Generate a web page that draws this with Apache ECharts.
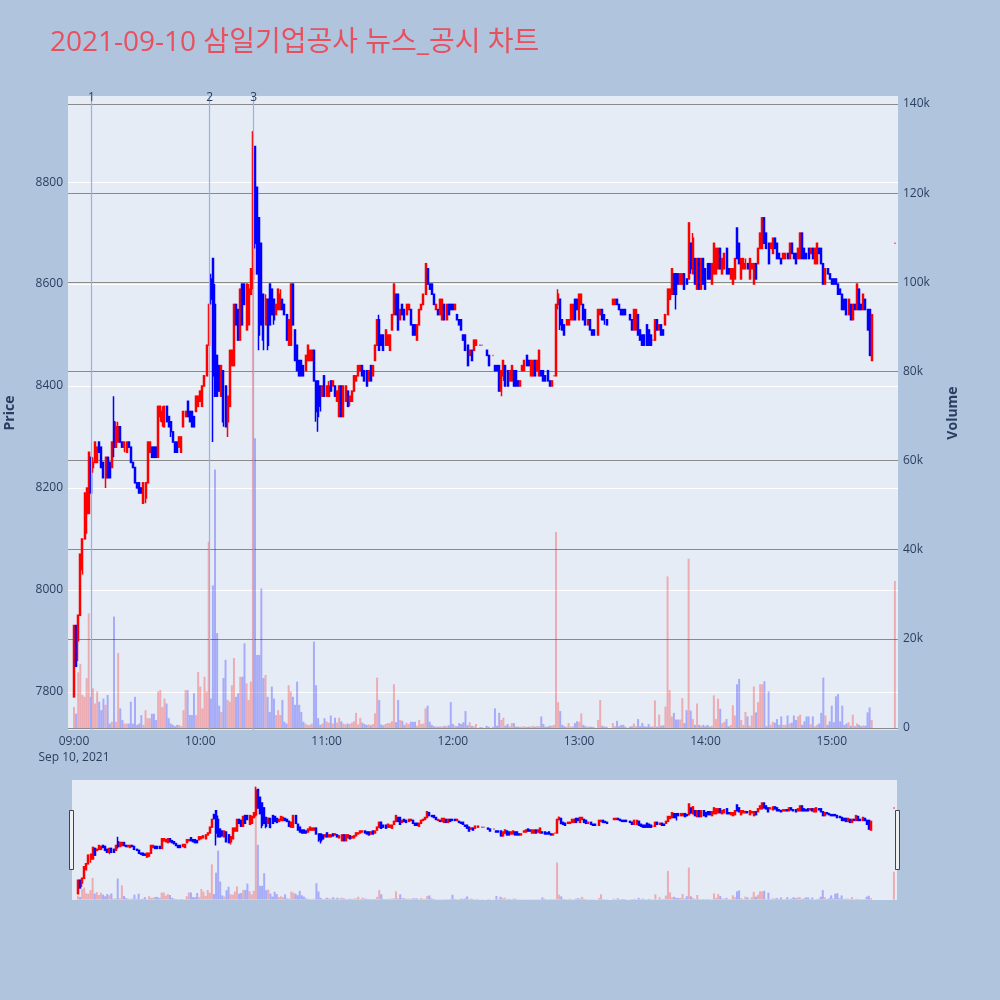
<!DOCTYPE html>
<html><head><meta charset="utf-8">
<script src="https://cdn.jsdelivr.net/npm/echarts@6/dist/echarts.min.js"></script>
<style>html,body{margin:0;padding:0;background:#b0c4de}#c{width:1000px;height:1000px}</style>
</head><body><div id="c"></div>
<script>
// rows: [time, open, high, low, close, volume]
const h09 = [
["09:00",7790,7930,7790,7930,4700],["09:01",7930,7930,7850,7850,3200],["09:02",7900,7950,7860,7950,12500],
["09:03",7950,8070,7950,8070,14400],["09:04",8040,8100,8030,8100,7400],["09:05",8100,8190,8100,8190,7000],
["09:06",8150,8200,8110,8200,11200],["09:07",8150,8270,8150,8270,25700],["09:08",8260,8260,8190,8190,7000],
["09:09",8240,8260,8230,8250,8900],["09:10",8250,8290,8250,8290,5500],["09:11",8250,8280,8250,8280,8200],
["09:12",8290,8290,8270,8270,5900],["09:13",8280,8280,8240,8240,4000],["09:14",8250,8250,8220,8220,6600],
["09:15",8220,8260,8200,8260,5200],["09:16",8260,8260,8220,8220,7400],["09:17",8250,8250,8220,8220,1000],
["09:18",8240,8290,8240,8290,1400],["09:19",8330,8380,8260,8280,25000],["09:20",8280,8330,8280,8320,1400],
["09:21",8290,8330,8290,8320,16800],["09:22",8320,8320,8290,8290,4400],["09:23",8290,8290,8280,8280,1800],
["09:24",8280,8290,8270,8290,1000],["09:25",8270,8290,8270,8290,1000],["09:26",8290,8290,8280,8280,1000],
["09:27",8280,8280,8250,8250,5900],["09:28",8250,8250,8240,8240,1000],["09:29",8240,8240,8210,8210,7000],
["09:30",8210,8210,8200,8200,700],["09:31",8210,8210,8190,8190,1000],["09:32",8200,8200,8190,8190,2900],
["09:33",8170,8210,8170,8210,700],["09:34",8180,8210,8170,8210,4000],["09:35",8210,8290,8210,8290,2200],
["09:36",8270,8290,8270,8290,2200],["09:37",8280,8280,8260,8260,3200],["09:38",8280,8280,8260,8260,3200],
["09:39",8280,8280,8260,8260,1800],["09:40",8260,8360,8260,8360,8200],["09:41",8340,8360,8330,8360,8500],
["09:42",8330,8360,8320,8350,4700],["09:43",8320,8360,8320,8360,6600],["09:44",8360,8360,8330,8330,5500],
["09:45",8340,8340,8320,8320,2200],["09:46",8330,8330,8300,8310,1000],["09:47",8310,8310,8290,8290,700],
["09:48",8290,8290,8270,8270,400],["09:49",8290,8290,8270,8270,700],["09:50",8280,8300,8280,8300,700],
["09:51",8270,8300,8270,8300,400],["09:52",8320,8350,8320,8350,4000],["09:53",8340,8350,8340,8350,8500],
["09:54",8370,8370,8340,8340,8500],["09:55",8350,8350,8330,8330,2900],["09:56",8350,8350,8320,8320,2900],
["09:57",8340,8340,8320,8320,7800],["09:58",8350,8380,8350,8380,2900],["09:59",8360,8380,8360,8380,12600]
];
const h10 = [
["10:00",8370,8390,8370,8390,9300],["10:01",8360,8400,8360,8400,4400],["10:02",8400,8420,8400,8420,11500],
["10:03",8420,8480,8420,8480,8200],["10:04",8480,8560,8480,8560,41800],["10:05",8610,8620,8560,8570,6600],
["10:06",8650,8650,8290,8420,32000],["10:07",8560,8600,8380,8380,58000],["10:08",8460,8460,8380,8380,21300],
["10:09",8440,8440,8390,8390,5000],["10:10",8380,8440,8380,8440,3600],["10:11",8430,8430,8320,8330,11200],
["10:12",8400,8400,8320,8320,15300],["10:13",8330,8380,8300,8380,6300],["10:14",8360,8470,8360,8470,5900],
["10:15",8440,8470,8440,8470,9600],["10:16",8440,8560,8440,8560,15700],["10:17",8560,8560,8520,8520,7000],
["10:18",8550,8550,8490,8490,7800],["10:19",8490,8590,8490,8590,11500],["10:20",8600,8600,8520,8520,11500],
["10:21",8600,8600,8560,8560,19000],["10:22",8510,8600,8510,8600,10000],["10:23",8520,8600,8520,8590,6300],
["10:24",8580,8630,8580,8630,10400],["10:25",8610,8900,8590,8860,134000],["10:26",8870,8870,8670,8680,65000],
["10:27",8790,8790,8620,8620,16400],["10:28",8730,8730,8470,8500,16400],["10:29",8680,8680,8520,8520,31300],
["10:30",8580,8580,8470,8490,11200],["10:31",8520,8580,8520,8570,11900],["10:32",8570,8570,8470,8480,7000],
["10:33",8600,8600,8520,8520,3600],["10:34",8590,8590,8540,8540,9300],["10:35",8570,8570,8520,8530,6600],
["10:36",8540,8560,8540,8560,2900],["10:37",8550,8590,8550,8590,4000],["10:38",8550,8590,8550,8580,2900],
["10:39",8570,8570,8550,8550,6300],["10:40",8560,8560,8540,8540,1400],["10:41",8540,8540,8490,8490,1000],
["10:42",8480,8530,8480,8530,9600],["10:43",8480,8600,8480,8600,8200],["10:44",8600,8600,8520,8520,7000],
["10:45",8510,8510,8450,8450,5200],["10:46",8480,8480,8430,8430,10400],["10:47",8450,8450,8420,8420,5200],
["10:48",8450,8450,8420,8420,3600],["10:49",8440,8440,8420,8420,1400],["10:50",8430,8460,8430,8460,1000],
["10:51",8450,8480,8450,8480,700],["10:52",8450,8470,8450,8470,700],["10:53",8450,8470,8450,8470,1000],
["10:54",8470,8470,8410,8410,19400],["10:55",8410,8410,8330,8350,9600],["10:56",8410,8410,8310,8340,2200],
["10:57",8400,8400,8350,8360,700],["10:58",8380,8400,8380,8400,1000],["10:59",8420,8420,8380,8380,2200]
];
const h11 = [
["11:00",8380,8400,8380,8400,1500],["11:01",8380,8410,8380,8400,1200],["11:02",8410,8410,8390,8390,2800],
["11:03",8400,8410,8400,8410,1000],["11:04",8400,8400,8380,8380,2300],["11:05",8370,8390,8370,8390,1200],
["11:06",8340,8400,8340,8400,2300],["11:07",8400,8400,8340,8340,1500],["11:08",8340,8400,8340,8400,1000],
["11:09",8370,8400,8370,8400,800],["11:10",8390,8390,8360,8360,1000],["11:11",8370,8380,8360,8380,900],
["11:12",8370,8390,8370,8390,1200],["11:13",8390,8420,8390,8420,1500],["11:14",8410,8420,8410,8420,3400],
["11:15",8420,8440,8420,8440,800],["11:16",8430,8440,8430,8440,2300],["11:17",8440,8440,8420,8420,1200],
["11:18",8430,8430,8410,8410,900],["11:19",8430,8430,8400,8400,700],["11:20",8410,8430,8410,8430,800],
["11:21",8440,8440,8410,8410,600],["11:22",8420,8440,8420,8440,900],["11:23",8450,8480,8450,8480,3300],
["11:24",8480,8530,8480,8530,11300],["11:25",8530,8540,8470,8470,6300],["11:26",8500,8500,8480,8480,800],
["11:27",8500,8500,8470,8470,600],["11:28",8480,8510,8480,8510,900],["11:29",8480,8500,8480,8500,1100],
["11:30",8470,8500,8470,8500,1100],["11:31",8510,8540,8510,8540,1500],["11:32",8540,8600,8540,8600,9800],
["11:33",8580,8580,8540,8540,1300],["11:34",8580,8580,8510,8510,6300],["11:35",8530,8550,8530,8550,1800],
["11:36",8560,8560,8540,8540,1600],["11:37",8550,8550,8530,8530,700],["11:38",8540,8560,8540,8560,1200],
["11:39",8550,8560,8550,8560,900],["11:40",8550,8550,8520,8520,1400],["11:41",8520,8520,8500,8500,1400],
["11:42",8520,8520,8500,8500,1400],["11:43",8490,8520,8490,8520,500],["11:44",8520,8550,8520,8550,1800],
["11:45",8550,8560,8550,8560,900],["11:46",8560,8580,8560,8580,1000],["11:47",8580,8640,8580,8640,4400],
["11:48",8630,8630,8600,8600,5000],["11:49",8600,8600,8590,8590,1400],["11:50",8600,8600,8580,8580,700],
["11:51",8580,8580,8560,8560,400],["11:52",8550,8560,8550,8560,300],["11:53",8550,8550,8540,8540,300],
["11:54",8540,8570,8540,8570,400],["11:55",8530,8570,8530,8570,300],["11:56",8560,8560,8530,8530,500],
["11:57",8530,8560,8530,8560,400],["11:58",8560,8560,8540,8540,600],["11:59",8560,8560,8550,8550,5800]
];
const h12 = [
["12:00",8560,8560,8550,8550,900],["12:01",8550,8560,8550,8560,500],["12:02",8540,8540,8530,8530,400],
["12:03",8530,8530,8520,8520,1100],["12:04",8530,8530,8510,8510,900],["12:05",8500,8500,8490,8490,1300],
["12:06",8500,8500,8470,8470,3800],["12:07",8480,8480,8440,8440,600],["12:08",8460,8470,8460,8470,1300],
["12:09",8470,8470,8450,8450,500],["12:10",8470,8490,8470,8490,400],["12:11",8480,8490,8480,8490,900],
["12:13",8480,8480,8480,8480,200],["12:14",8480,8480,8480,8480,200],["12:16",8470,8470,8460,8460,500],
["12:17",8460,8460,8440,8440,300],["12:19",8460,8460,8460,8460,300],["12:20",8440,8440,8430,8430,4400],
["12:21",8440,8440,8430,8430,500],["12:22",8440,8440,8390,8390,3400],["12:23",8390,8430,8380,8430,1800],
["12:24",8420,8450,8410,8450,2300],["12:25",8440,8440,8400,8400,500],["12:26",8430,8430,8400,8400,900],
["12:27",8410,8430,8410,8430,400],["12:28",8410,8440,8410,8440,1100],["12:29",8430,8430,8400,8400,1100],
["12:30",8430,8430,8400,8400,300],["12:31",8410,8410,8400,8400,300],["12:32",8400,8410,8400,8410,300],
["12:33",8430,8440,8430,8440,300],["12:34",8430,8450,8430,8450,400],["12:35",8460,8460,8440,8440,200],
["12:36",8450,8450,8440,8440,300],["12:37",8420,8450,8420,8450,300],["12:38",8420,8450,8420,8450,500],
["12:39",8450,8450,8420,8420,300],["12:40",8430,8450,8430,8450,400],["12:41",8420,8470,8420,8470,400],
["12:42",8430,8430,8420,8420,2600],["12:43",8430,8430,8410,8410,900],["12:44",8420,8420,8410,8410,300],
["12:45",8430,8430,8410,8410,300],["12:46",8410,8410,8400,8400,500],["12:47",8400,8410,8400,8410,500],
["12:48",8420,8420,8420,8420,700],["12:49",8420,8560,8420,8560,44000],["12:50",8560,8590,8550,8580,5800],
["12:51",8570,8570,8510,8520,3800],["12:52",8530,8530,8510,8510,700],["12:53",8520,8520,8500,8500,400],
["12:54",8520,8530,8520,8530,300],["12:55",8520,8530,8520,8530,1100],["12:56",8530,8560,8530,8560,300],
["12:57",8530,8560,8530,8560,400],["12:58",8570,8570,8530,8530,1100],["12:59",8570,8570,8550,8550,1500]
];
const h13 = [
["13:00",8530,8580,8530,8580,1400],["13:01",8560,8580,8560,8580,3300],["13:02",8560,8560,8530,8530,700],
["13:03",8550,8550,8520,8520,400],["13:04",8520,8530,8520,8530,300],["13:05",8530,8530,8510,8510,300],
["13:06",8510,8510,8500,8500,300],["13:07",8510,8510,8500,8500,200],["13:09",8500,8550,8500,8550,1800],
["13:10",8540,8550,8540,8550,6300],["13:11",8550,8550,8530,8530,500],["13:12",8540,8540,8520,8530,300],
["13:13",8530,8530,8520,8520,300],["13:16",8560,8570,8560,8570,1100],["13:17",8560,8570,8560,8570,400],
["13:18",8570,8570,8560,8560,1600],["13:19",8560,8560,8550,8550,400],["13:20",8550,8550,8540,8540,700],
["13:21",8550,8550,8540,8540,700],["13:22",8550,8550,8540,8540,300],["13:24",8540,8540,8530,8530,300],
["13:25",8530,8530,8510,8510,400],["13:26",8510,8550,8510,8550,1000],["13:27",8510,8550,8510,8550,400],
["13:28",8540,8540,8500,8500,2000],["13:29",8510,8510,8490,8490,400],["13:30",8500,8500,8480,8480,1100],
["13:31",8500,8500,8480,8480,400],["13:32",8520,8520,8480,8480,300],["13:33",8510,8510,8480,8480,900],
["13:34",8500,8500,8480,8480,300],["13:35",8490,8490,8490,8490,400],["13:36",8490,8530,8490,8530,6200],
["13:37",8530,8530,8510,8510,300],["13:38",8510,8520,8510,8520,3000],["13:39",8520,8520,8500,8500,500],
["13:40",8510,8510,8500,8500,600],["13:41",8520,8540,8520,8540,4800],["13:42",8540,8590,8540,8590,34000],
["13:43",8570,8590,8570,8590,8500],["13:44",8580,8630,8580,8630,2600],["13:45",8620,8620,8580,8580,3400],
["13:46",8620,8620,8550,8580,1900],["13:47",8620,8620,8600,8600,1900],["13:48",8600,8620,8600,8620,1900],
["13:49",8600,8620,8600,8620,6700],["13:50",8620,8620,8590,8590,1100],["13:51",8610,8610,8600,8600,4000],
["13:52",8610,8720,8610,8720,38000],["13:53",8680,8680,8620,8630,3900],["13:54",8620,8700,8620,8690,2000],
["13:55",8650,8650,8600,8600,700],["13:56",8590,8650,8590,8650,5500],["13:57",8650,8650,8590,8590,700],
["13:58",8590,8650,8590,8650,500],["13:59",8650,8650,8600,8600,700]
];
const h14 = [
["14:00",8630,8630,8590,8590,400],["14:01",8640,8640,8610,8610,700],["14:02",8640,8640,8610,8610,300],
["14:03",8600,8640,8600,8640,500],["14:04",8620,8680,8620,8680,7300],["14:05",8620,8670,8620,8670,2000],
["14:06",8630,8670,8630,8670,6600],["14:07",8670,8670,8630,8630,4300],["14:08",8620,8650,8620,8650,1100],
["14:09",8630,8660,8630,8660,1400],["14:10",8670,8670,8620,8620,2000],["14:11",8630,8630,8620,8620,400],
["14:12",8610,8630,8610,8630,700],["14:13",8600,8630,8600,8630,5100],["14:14",8610,8650,8610,8650,2800],
["14:15",8710,8710,8650,8650,9800],["14:16",8680,8680,8640,8640,11000],["14:17",8610,8650,8610,8650,1800],
["14:18",8630,8650,8630,8650,700],["14:19",8630,8650,8630,8640,3600],["14:20",8640,8640,8630,8630,2600],
["14:21",8610,8650,8610,8650,500],["14:22",8630,8640,8630,8640,2800],["14:23",8600,8640,8600,8640,9300],
["14:24",8640,8640,8610,8610,3500],["14:25",8640,8670,8640,8670,5800],["14:26",8670,8700,8670,8700,9800],
["14:27",8670,8730,8670,8730,9800],["14:28",8730,8730,8680,8680,10500],["14:29",8700,8700,8670,8670,400],
["14:30",8680,8680,8640,8640,8200],["14:31",8670,8680,8670,8680,700],["14:32",8660,8690,8660,8690,1400],
["14:33",8690,8690,8670,8670,1200],["14:34",8680,8680,8650,8650,2000],["14:35",8660,8660,8650,8650,700],
["14:36",8650,8650,8640,8640,2600],["14:37",8650,8660,8650,8660,700],["14:38",8650,8660,8650,8660,700],
["14:39",8660,8660,8650,8650,2800],["14:40",8650,8680,8650,8680,1000],["14:41",8680,8680,8660,8660,1200],
["14:42",8660,8660,8650,8650,2800],["14:43",8660,8660,8640,8640,1800],["14:44",8650,8670,8650,8670,2600],
["14:45",8650,8700,8650,8700,3000],["14:46",8700,8700,8650,8650,700],["14:47",8670,8670,8650,8650,1500],
["14:48",8660,8660,8650,8650,2600],["14:49",8670,8670,8650,8650,2600],["14:50",8660,8670,8660,8670,800],
["14:51",8670,8670,8650,8650,2600],["14:52",8640,8670,8640,8670,400],["14:53",8640,8680,8640,8680,700],
["14:54",8670,8670,8660,8660,1000],["14:55",8670,8670,8640,8640,3400],["14:56",8640,8640,8600,8600,11300],
["14:57",8600,8630,8600,8630,2800],["14:58",8630,8630,8620,8620,700],["14:59",8620,8620,8610,8610,1500]
];
const h15 = [
["15:00",8610,8610,8600,8600,5000],["15:01",8610,8610,8600,8600,1300],["15:02",8610,8610,8600,8600,7100],
["15:03",8600,8600,8580,8580,7600],["15:04",8590,8590,8580,8580,1500],["15:05",8580,8580,8550,8550,5000],
["15:06",8570,8570,8550,8550,700],["15:07",8570,8570,8540,8540,1000],["15:08",8540,8570,8540,8570,1300],
["15:09",8560,8560,8530,8530,500],["15:10",8530,8560,8530,8560,3000],["15:11",8560,8560,8550,8550,400],
["15:12",8550,8600,8550,8600,1000],["15:13",8590,8590,8550,8550,700],["15:14",8560,8560,8550,8550,400],
["15:15",8550,8580,8550,8580,600],["15:16",8570,8570,8550,8550,500],["15:17",8550,8550,8510,8510,3500],
["15:18",8550,8550,8460,8460,4600],["15:19",8450,8540,8450,8540,1800],["15:30",8680,8680,8680,8680,33000]
];
const newsTimes = ["09:08:20", "10:04:30", "10:25:20"];
const newsLabels = ["1", "2", "3"];
const titleText = "2021-09-10 삼일기업공사 뉴스_공시 차트";

const UP = '#ff0000', DOWN = '#0000ff';
const UPV = 'rgba(255,0,0,0.27)', DOWNV = 'rgba(0,0,255,0.27)';
const tsOf = s => { const p = s.split(':').map(Number); return new Date(2021, 8, 10, p[0], p[1], p[2] || 0).getTime(); };
const rows = [].concat(h09, h10, h11, h12, h13, h14, h15);
const dirs = rows.map((r, i) => r[4] > r[1] ? 1 : r[4] < r[1] ? -1 : (i > 0 && r[4] < rows[i-1][4] ? -1 : 1));
const candles = rows.map((r, i) => {
  const c = dirs[i] > 0 ? UP : DOWN;
  return { value: [tsOf(r[0]), r[1], r[4], r[3], r[2]],
    itemStyle: { color: c, color0: c, borderColor: c, borderColor0: c, borderColorDoji: c } };
});
const vols = rows.map((r, i) => ({ value: [tsOf(r[0]), r[5]], itemStyle: { color: dirs[i] > 0 ? UPV : DOWNV } }));

const xMin = tsOf('08:57:38'), xMax = tsOf('15:31:00');
const FONT = '"Open Sans", "Noto Sans CJK KR", sans-serif';
const TXT = '#2a3f5f';

const chart = echarts.init(document.getElementById('c'), null, { renderer: 'canvas' });
chart.setOption({
  animation: false,
  backgroundColor: '#b0c4de',
  textStyle: { fontFamily: FONT },
  title: { text: titleText, left: 45, top: 24,
    textStyle: { color: '#e8505e', fontSize: 28, fontWeight: 'normal', fontFamily: FONT } },
  grid: [
    { left: 68, top: 96, width: 830, height: 634, show: true, backgroundColor: '#e5ecf6', borderWidth: 0,
      outerBoundsMode: 'none', containLabel: false },
    { left: 72, top: 780, width: 825, height: 120, show: true, backgroundColor: '#e5ecf6', borderWidth: 0,
      outerBoundsMode: 'none', containLabel: false }
  ],
  xAxis: [
    { type: 'time', gridIndex: 0, min: xMin, max: xMax, splitNumber: 7,
      minInterval: 3600000, maxInterval: 3600000,
      axisLine: { show: false }, axisTick: { show: false }, splitLine: { show: false },
      axisLabel: { color: TXT, fontSize: 12, fontFamily: FONT, margin: 4, lineHeight: 16,
        showMinLabel: false, showMaxLabel: false, hideOverlap: false,
        formatter: v => { const d = new Date(v); if (d.getMinutes() || d.getSeconds()) return '';
          const s = String(d.getHours()).padStart(2, '0') + ':00';
          return d.getHours() === 9 ? s + '\nSep 10, 2021' : s; } } },
    { type: 'time', gridIndex: 1, min: xMin, max: xMax, show: false }
  ],
  yAxis: [
    { type: 'value', gridIndex: 0, min: 7725, max: 8969, splitNumber: 6, position: 'left',
      name: 'Price', nameLocation: 'middle', nameRotate: 90, nameGap: 51,
      nameTextStyle: { color: TXT, fontSize: 14, fontWeight: 'bold', fontFamily: FONT },
      axisLine: { show: false }, axisTick: { show: false },
      splitLine: { show: true, showMinLine: false, showMaxLine: false, lineStyle: { color: '#ffffff', width: 1 } },
      axisLabel: { color: TXT, fontSize: 12, fontFamily: FONT, margin: 5, showMinLabel: false, showMaxLabel: false,
        formatter: v => (v % 200 === 0 ? String(v) : '') } },
    { type: 'value', gridIndex: 0, min: -450, max: 141800, splitNumber: 7, position: 'right',
      name: 'Volume', nameLocation: 'middle', nameRotate: 90, nameGap: 48,
      nameTextStyle: { color: TXT, fontSize: 14, fontWeight: 'bold', fontFamily: FONT },
      axisLine: { show: false }, axisTick: { show: false },
      splitLine: { show: true, showMinLine: false, showMaxLine: false, lineStyle: { color: '#8a8a8a', width: 1.2 } },
      axisLabel: { color: TXT, fontSize: 12, fontFamily: FONT, margin: 5, showMinLabel: false, showMaxLabel: false,
        formatter: v => (v % 20000 === 0 ? (v === 0 ? '0' : (v / 1000) + 'k') : '') } },
    { type: 'value', gridIndex: 1, min: 7725, max: 8969, show: false, splitLine: { show: false } },
    { type: 'value', gridIndex: 1, min: -450, max: 141800, show: false, splitLine: { show: false } }
  ],
  series: [
    { type: 'bar', name: 'vol', xAxisIndex: 0, yAxisIndex: 1, data: vols, barWidth: 2, z: 1 },
    { type: 'candlestick', name: 'price', xAxisIndex: 0, yAxisIndex: 0, data: candles, barWidth: 1.5, z: 2,
      encode: { x: 0, y: [1, 2, 3, 4] },
      itemStyle: { color: UP, color0: DOWN, borderColor: UP, borderColor0: DOWN, borderWidth: 1.5 },
      markLine: { silent: true, symbol: ['none', 'none'], animation: false,
        lineStyle: { color: '#98aeee', width: 1.2, type: 'solid' },
        label: { show: true, position: 'end', distance: -8, color: TXT, fontSize: 12, fontFamily: FONT },
        data: newsTimes.map((t, i) => ({ xAxis: tsOf(t), label: { formatter: newsLabels[i] } })) } },
    { type: 'bar', name: 'vol2', xAxisIndex: 1, yAxisIndex: 3, data: vols, barWidth: 2, z: 1 },
    { type: 'candlestick', name: 'price2', xAxisIndex: 1, yAxisIndex: 2, data: candles, barWidth: 1.5, z: 2,
      encode: { x: 0, y: [1, 2, 3, 4] },
      itemStyle: { color: UP, color0: DOWN, borderColor: UP, borderColor0: DOWN, borderWidth: 1.5 } }
  ],
  graphic: [
    { type: 'rect', shape: { x: 69.5, y: 810.5, width: 4, height: 59 }, style: { fill: '#f0f0f0', stroke: '#444', lineWidth: 1 }, z: 100 },
    { type: 'rect', shape: { x: 895.5, y: 810.5, width: 4, height: 59 }, style: { fill: '#f0f0f0', stroke: '#444', lineWidth: 1 }, z: 100 }
  ]
});
</script></body></html>
